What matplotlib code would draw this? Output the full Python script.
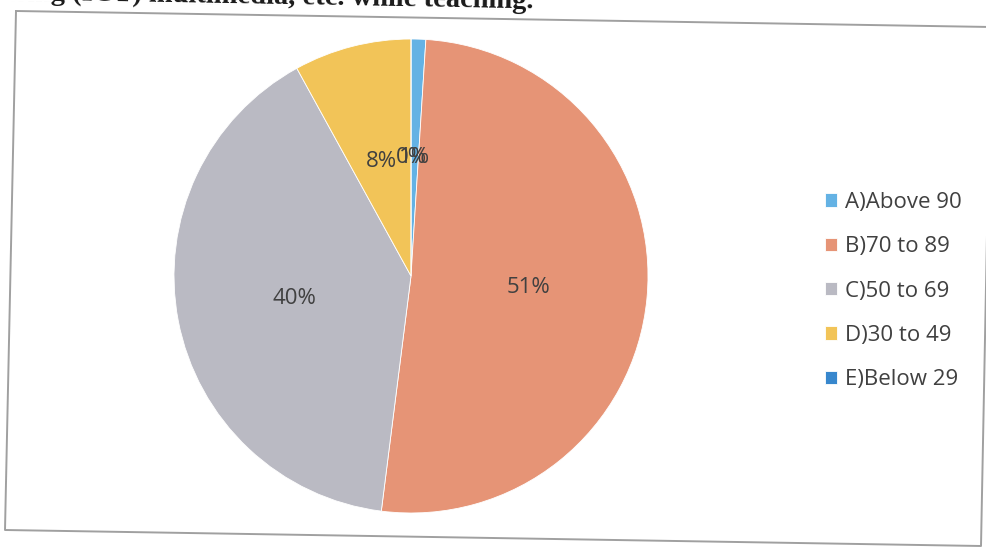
import matplotlib.pyplot as plt
from matplotlib.lines import Line2D

categories = ['A)Above 90', 'B)70 to 89', 'C)50 to 69', 'D)30 to 49', 'E)Below 29']
percent = [1, 51, 40, 8, 0]
colors = ['#64B2E4', '#E69476', '#BABAC3', '#F2C458', '#3787CD']

W, H = 986, 553
fig = plt.figure(figsize=(W / 100, H / 100), dpi=100)
fig.patch.set_facecolor('white')

def px(x, y):
    # pixel coords (from top-left) -> figure fraction
    return x / W, 1 - y / H

# pie axes: centre (411, 276), radius 237 px
cx, cy, r = 411, 276, 237
ax = fig.add_axes([(cx - r) / W, (H - cy - r) / H, 2 * r / W, 2 * r / H])
wedges, texts, autotexts = ax.pie(
    percent, colors=colors, startangle=90, counterclock=False,
    autopct='%1.0f%%', pctdistance=0.5, radius=1,
    wedgeprops={'edgecolor': 'white', 'linewidth': 0.6},
    textprops={'fontsize': 16, 'color': '#404040', 'family': 'Open Sans'})
ax.set_xlim(-1, 1)
ax.set_ylim(-1, 1)
ax.set_aspect('equal')
ax.axis('off')

# legend
leg = fig.legend(wedges, categories, loc='center left',
                 bbox_to_anchor=px(825, 291), frameon=False,
                 borderaxespad=0, borderpad=0,
                 handlelength=0.55, handleheight=0.55, handletextpad=0.33,
                 labelspacing=1.05, prop={'family': 'Open Sans', 'size': 16})
for t in leg.get_texts():
    t.set_color('#404040')

# scanned chart border (slightly rotated page)
corners = [(16, 11), (991, 27), (981, 546), (5, 530), (16, 11)]
xs = [px(x, y)[0] for x, y in corners]
ys = [px(x, y)[1] for x, y in corners]
fig.add_artist(Line2D(xs, ys, color='#A0A0A0', linewidth=1.4,
                      transform=fig.transFigure))

# cut-off heading from the scanned page
fig.text(*px(533, 8), 'using (ICT) multimedia, etc. while teaching.',
         ha='right', va='baseline', rotation=-1.0, rotation_mode='anchor',
         fontsize=20.5, fontweight='bold', family='Liberation Serif',
         color='#1a1a1a')

fig.savefig('out.png', dpi=100)
